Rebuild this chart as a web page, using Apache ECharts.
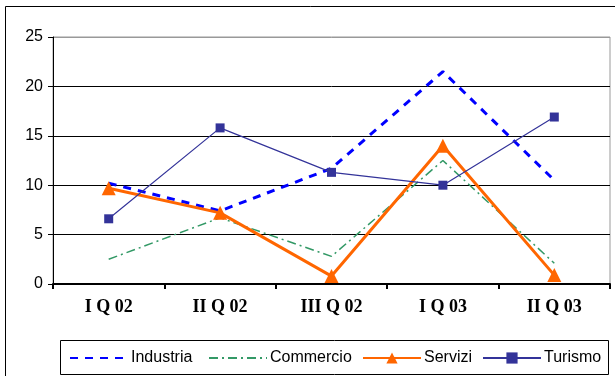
<!DOCTYPE html>
<html>
<head>
<meta charset="utf-8">
<script src="https://cdn.jsdelivr.net/npm/echarts@6/dist/echarts.min.js"></script>
<style>
  html, body { margin: 0; padding: 0; background: #fff; }
  #chart { width: 615px; height: 376px; }
</style>
</head>
<body>
<div id="chart"></div>
<script>
// Quarterly values by sector
const quarters = ['I Q 02', 'II Q 02', 'III Q 02', 'I Q 03', 'II Q 03'];
const industria = [10.2, 7.4, 11.7, 21.5, 10.5];
const commercio = [2.5, 6.7, 2.8, 12.5, 2.1];
const servizi = [9.7, 7.2, 0.8, 14.0, 0.9];
const turismo = [6.6, 15.8, 11.3, 10.0, 16.9];
const yTicks = [0, 5, 10, 15, 20, 25];
const seriesNames = ['Industria', 'Commercio', 'Servizi', 'Turismo'];

const chart = echarts.init(document.getElementById('chart'));

const sansFont = '"Liberation Sans", Arial, sans-serif';

// one legend per entry so each sits at its own spot inside the legend frame
const legendLeft = [69, 208, 362, 482];
const noMarker = { color: 'rgba(0,0,0,0)', borderWidth: 0 };
const legends = seriesNames.map((name, i) => ({
  left: legendLeft[i], top: 350, padding: 0,
  itemWidth: 58, itemHeight: 14,
  textStyle: { fontFamily: sansFont, fontSize: 16, color: '#000', padding: [0, 0, 0, -2] },
  data: [i < 2 ? { name: name, itemStyle: noMarker } : name],
  z: 5
}));

chart.setOption({
  animation: false,
  backgroundColor: '#fff',
  graphic: [
    // outer frame
    { type: 'rect', shape: { x: 5.5, y: 6.5, width: 700, height: 500 },
      style: { fill: 'none', stroke: '#000', lineWidth: 1 }, silent: true },
    // legend frame
    { type: 'rect', shape: { x: 60.5, y: 340.5, width: 548, height: 34 },
      style: { fill: '#fff', stroke: '#000', lineWidth: 1 }, silent: true, z: 0 }
  ],
  grid: {
    left: 53, right: 5, top: 37, bottom: 92,
    show: true, borderColor: '#999', borderWidth: 1
  },
  legend: legends,
  xAxis: {
    type: 'category',
    data: quarters,
    boundaryGap: true,
    axisLine: { lineStyle: { color: '#000', width: 2 } },
    axisTick: { show: true, length: 5, lineStyle: { color: '#000', width: 2 } },
    axisLabel: {
      fontFamily: '"Liberation Serif", "Times New Roman", serif',
      fontWeight: 'bold', fontSize: 18, color: '#000', margin: 14
    }
  },
  yAxis: {
    type: 'value',
    min: yTicks[0], max: yTicks[yTicks.length - 1], interval: 5,
    axisLine: { show: true, lineStyle: { color: '#000', width: 1 } },
    axisTick: { show: true, length: 5, lineStyle: { color: '#000' } },
    axisLabel: { fontFamily: sansFont, fontSize: 16, color: '#000', margin: 10 },
    splitLine: { show: true, lineStyle: { color: ['#000', '#000', '#000', '#000', '#000', '#999'], width: 1 } }
  },
  series: [
    {
      name: seriesNames[0], type: 'line', data: industria,
      symbol: 'none',
      lineStyle: { color: '#0000ff', width: 3, type: [8, 7] },
      itemStyle: { color: '#0000ff' }, z: 3
    },
    {
      name: seriesNames[1], type: 'line', data: commercio,
      symbol: 'none',
      lineStyle: { color: '#339966', width: 1.5, type: [9, 4, 2, 4] },
      itemStyle: { color: '#339966' }, z: 2
    },
    {
      name: seriesNames[2], type: 'line', data: servizi,
      symbol: 'triangle', symbolSize: 14,
      lineStyle: { color: '#ff6600', width: 3 },
      itemStyle: { color: '#ff6600' }, z: 4
    },
    {
      name: seriesNames[3], type: 'line', data: turismo,
      symbol: 'rect', symbolSize: 9,
      lineStyle: { color: '#333399', width: 1.2 },
      itemStyle: { color: '#333399' }, z: 5
    }
  ]
});
</script>
</body>
</html>
